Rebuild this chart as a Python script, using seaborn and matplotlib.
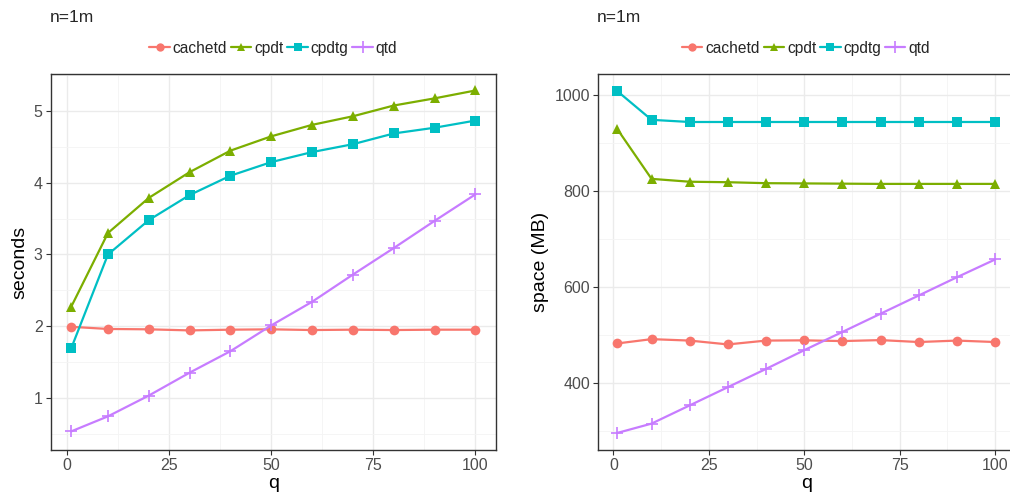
import numpy as np
import pandas as pd
import matplotlib
matplotlib.use("Agg")
import matplotlib.pyplot as plt
from matplotlib.lines import Line2D
import seaborn as sns

q = [1, 10, 20, 30, 40, 50, 60, 70, 80, 90, 100]
methods = ["cachetd", "cpdt", "cpdtg", "qtd"]

time_cachetd = [1.99, 1.96, 1.955, 1.94, 1.95, 1.955, 1.945, 1.95, 1.945, 1.95, 1.95]
time_cpdt = [2.27, 3.30, 3.79, 4.15, 4.45, 4.65, 4.81, 4.93, 5.08, 5.18, 5.29]
time_cpdtg = [1.69, 3.00, 3.48, 3.83, 4.10, 4.29, 4.43, 4.54, 4.69, 4.77, 4.87]
time_qtd = [0.53, 0.74, 1.03, 1.35, 1.65, 2.01, 2.34, 2.72, 3.09, 3.47, 3.84]

space_cachetd = [483, 492, 489, 481, 489, 489.5, 488, 490, 486, 489, 486]
space_cpdt = [930, 826, 820, 819, 817, 816.5, 816, 815.5, 815.5, 815.5, 815.5]
space_cpdtg = [1009, 949, 944.5, 944.5, 944.5, 944.5, 944.5, 944.5, 944.5, 944.5, 944.5]
space_qtd = [296.5, 316, 354, 392, 430, 469, 507, 545, 583, 621, 658]

titles = ["n=1m", "n=1m"]
ylabels = ["seconds", "space (MB)"]
xlabel = "q"

colors = ["#F8766D", "#7CAE00", "#00BFC4", "#C77CFF"]
markers = ["o", "^", "s", "+"]

def long(series):
    rows = []
    for m, vals in zip(methods, series):
        for x, v in zip(q, vals):
            rows.append({"q": x, "value": v, "method": m})
    return pd.DataFrame(rows)

df_time = long([time_cachetd, time_cpdt, time_cpdtg, time_qtd])
df_space = long([space_cachetd, space_cpdt, space_cpdtg, space_qtd])

sns.set_theme(style="white")
plt.rcParams['font.family'] = ['Liberation Sans', 'DejaVu Sans']

fig = plt.figure(figsize=(10.1, 4.98), dpi=100)
W, H = 1010, 498
ax1 = fig.add_axes([51 / W, (H - 450) / H, (495.7 - 51) / W, (450 - 74) / H])
ax2 = fig.add_axes([598.3 / W, (H - 450) / H, (1014 - 598.3) / W, (450 - 74) / H])

palette = dict(zip(methods, colors))
mk = dict(zip(methods, markers))

for ax, df, yl, ylim, yt, ym in [
    (ax1, df_time, ylabels[0], (0.27, 5.52), [1, 2, 3, 4, 5], [0.5, 1.5, 2.5, 3.5, 4.5, 5.5]),
    (ax2, df_space, ylabels[1], (261, 1044.5), [400, 600, 800, 1000], [300, 500, 700, 900]),
]:
    ax.set_axisbelow(True)
    ax.set_xticks([0, 25, 50, 75, 100])
    ax.set_xticks([12.5, 37.5, 62.5, 87.5], minor=True)
    ax.set_yticks(yt)
    ax.set_yticks(ym, minor=True)
    ax.grid(True, which="major", color="#EBEBEB", linewidth=1.0)
    ax.grid(True, which="minor", color="#F4F4F4", linewidth=0.6)
    for m in methods:
        sub = df[df["method"] == m]
        sns.lineplot(data=sub, x="q", y="value", ax=ax, color=palette[m],
                     marker=mk[m], markersize=7 if m != "qtd" else 9,
                     markeredgewidth=0 if m != "qtd" else 1.2,
                     markeredgecolor=palette[m],
                     linewidth=1.6, legend=False)
    ax.set_xlim(-3.95, 104.95)
    ax.set_ylim(*ylim)
    ax.set_xlabel(xlabel, fontsize=14, color="black", labelpad=1)
    ax.set_ylabel(yl, fontsize=14, color="black", labelpad=4)
    ax.tick_params(axis="both", which="major", labelsize=11.5, labelcolor="#4D4D4D",
                   color="#333333", length=3.5, width=0.8, direction="out",
                   bottom=True, left=True, pad=2.5)
    ax.tick_params(axis="both", which="minor", length=0)
    for s in ax.spines.values():
        s.set_color("#333333")
        s.set_linewidth(1.0)

    handles = [Line2D([0], [0], color=c, marker=mk_, markersize=6 if mk_ != "+" else 8,
                      markeredgewidth=0 if mk_ != "+" else 1.2, markeredgecolor=c,
                      linewidth=1.6) for c, mk_ in zip(colors, markers)]
    ax.legend(handles, methods, loc="center", bbox_to_anchor=(0.5, 1.0 + 26 / 376),
              ncol=4, frameon=False, fontsize=11.2, handlelength=1.3,
              handletextpad=0.2, columnspacing=0.25, borderaxespad=0)

fig.text(50 / W, 1 - 17 / H, titles[0], fontsize=12.5, ha="left", va="center")
fig.text(597 / W, 1 - 17 / H, titles[1], fontsize=12.5, ha="left", va="center")

fig.savefig("out.png", dpi=100)
